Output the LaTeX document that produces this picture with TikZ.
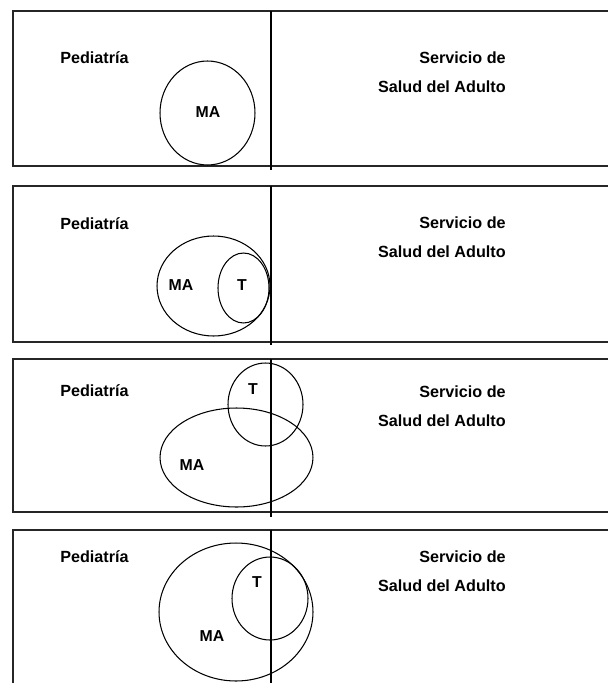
\documentclass[tikz,border=0pt]{standalone}
\usepackage{fontspec}
\setmainfont{Liberation Sans}
\usetikzlibrary{shapes.geometric,positioning}

\begin{document}
\begin{tikzpicture}[x=0.02cm,y=-0.02cm,
				area_box/.style ={draw=black!85, line width=1.1pt},
				divider/.style ={draw=black, line width=0.8pt},
				set_shape/.style ={ellipse, draw=black, line width=0.6pt, inner sep=0pt},
				area_left/.style ={font=\bfseries\fontsize{9.2}{10}\selectfont,
					anchor=west, inner sep=0pt},
				area_right/.style ={font=\bfseries\fontsize{9.2}{16.5}\selectfont,
					align=right, anchor=east, inner sep=0pt},
				set_label/.style ={font=\bfseries\fontsize{9}{10}\selectfont, inner sep=0pt}]

				\fill[white] (0,0) rectangle (608,683);
				\useasboundingbox (0,0) rectangle (608,683);
				\clip (0,0) rectangle (608,683);

				% panel 1 - MA only in pediatrics
				\draw[area_box] (13,11) rectangle (625,166);
				\draw[divider] (271,11) -- (271,170);
				\node[area_left] (ped1) at (60,58) {Pediatría};
				\node[area_right] (adu1) at (506,72) {Servicio de\\Salud del Adulto};
				\node[set_shape, minimum width=1.9cm, minimum height=2.08cm] (ma1) at (207.5,113) {};
				\node[set_label] (ma1l) at (208,112) {MA};

				% panel 2 - T inside MA
				\draw[area_box] (13,186) rectangle (625,342);
				\draw[divider] (271,186) -- (271,345);
				\node[area_left] (ped2) at (60,224) {Pediatría};
				\node[area_right] (adu2) at (506,237.5) {Servicio de\\Salud del Adulto};
				\node[set_shape, minimum width=2.26cm, minimum height=2cm] (ma2) at (213.5,286) {};
				\node[set_shape, minimum width=1.02cm, minimum height=1.4cm] (t2) at (243.5,288) {};
				\node[set_label] (ma2l) at (181,285) {MA};
				\node[set_label] (t2l) at (242,285) {T};

				% panel 3 - T crossing the border
				\draw[area_box] (13,359) rectangle (625,512);
				\draw[divider] (271,359) -- (271,517);
				\node[area_left] (ped3) at (60,391) {Pediatría};
				\node[area_right] (adu3) at (506,406) {Servicio de\\Salud del Adulto};
				\node[set_shape, minimum width=1.5cm, minimum height=1.66cm] (t3) at (265.5,404.5) {};
				\node[set_shape, minimum width=3.06cm, minimum height=1.98cm] (ma3) at (236.5,457.5) {};
				\node[set_label] (t3l) at (253,389) {T};
				\node[set_label] (ma3l) at (192,465) {MA};

				% panel 4 - MA and T across both services
				\draw[area_box] (13,530) rectangle (625,700);
				\draw[divider] (271,530) -- (271,700);
				\node[area_left] (ped4) at (60,557) {Pediatría};
				\node[area_right] (adu4) at (506,571.5) {Servicio de\\Salud del Adulto};
				\node[set_shape, minimum width=3.08cm, minimum height=2.76cm] (ma4) at (236,612) {};
				\node[set_shape, minimum width=1.52cm, minimum height=1.66cm] (t4) at (270,598.5) {};
				\node[set_label] (t4l) at (257,582) {T};
				\node[set_label] (ma4l) at (212,636) {MA};
			\end{tikzpicture}
\end{document}
